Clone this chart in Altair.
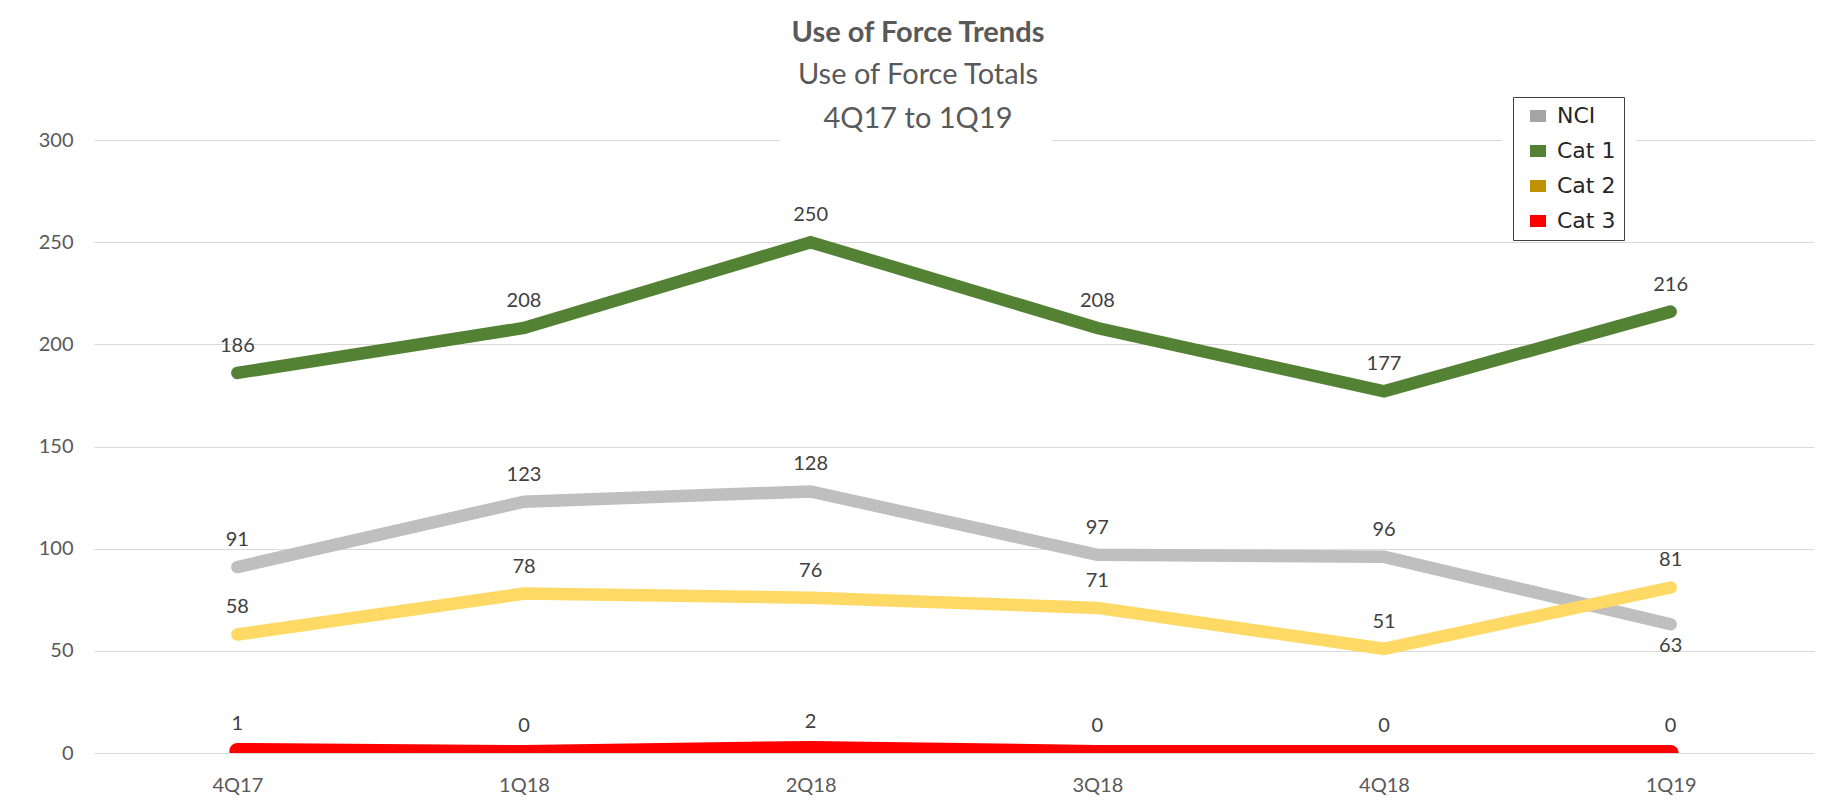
import altair as alt
import pandas as pd

quarters = ["4Q17", "1Q18", "2Q18", "3Q18", "4Q18", "1Q19"]
series_names = ["NCI", "Cat 1", "Cat 2", "Cat 3"]
nci = [91, 123, 128, 97, 96, 63]
cat1 = [186, 208, 250, 208, 177, 216]
cat2 = [58, 78, 76, 71, 51, 81]
cat3 = [1, 0, 2, 0, 0, 0]

line_colors = ["#bfbfbf", "#548235", "#ffd966", "#ff0000"]
legend_colors = ["#a5a5a5", "#548235", "#bf9000", "#ff0000"]

rows = []
for name, vals in zip(series_names, [nci, cat1, cat2, cat3]):
    for q, v in zip(quarters, vals):
        rows.append({"quarter": q, "series": name, "value": v,
                     "order": series_names.index(name)})
df = pd.DataFrame(rows)

FONT = "Lato"
W, H = 1720, 613

x_enc = alt.X("quarter:N", sort=quarters, title=None,
              scale=alt.Scale(type="point", padding=0.5),
              axis=alt.Axis(labelFont=FONT, labelFontSize=20, labelColor="#595959",
                            ticks=False, domain=False, grid=False, labelPadding=22,
                            labelAngle=0))
y_enc = alt.Y("value:Q", title=None,
              scale=alt.Scale(domain=[0, 300], nice=False),
              axis=alt.Axis(values=[0, 50, 100, 150, 200, 250, 300],
                            labelFont=FONT, labelFontSize=20, labelColor="#595959",
                            ticks=False, domain=False, grid=True, gridColor="#d9d9d9",
                            gridWidth=1.2, labelPadding=21))

base = alt.Chart(df)

lines = base.mark_line(strokeCap="round", strokeJoin="miter", clip=True).encode(
    x=x_enc, y=y_enc,
    color=alt.Color("series:N", sort=series_names,
                    scale=alt.Scale(domain=series_names, range=line_colors),
                    legend=None),
    strokeWidth=alt.condition("datum.series == 'Cat 3'", alt.value(16), alt.value(12.5)),
    order=alt.Order("order:Q"),
)

legend_layer = base.mark_square(opacity=0).encode(
    x=alt.X("quarter:N", sort=quarters),
    y=alt.Y("value:Q"),
    fill=alt.Fill("series:N", sort=series_names,
                  scale=alt.Scale(domain=series_names, range=legend_colors),
                  legend=alt.Legend(title=None, orient="none", legendX=1419, legendY=-43,
                                    symbolType="M-1,-0.75H1V0.75H-1Z", symbolSize=256,
                                    symbolOpacity=1, symbolStrokeWidth=0, symbolOffset=6,
                                    labelFont="DejaVu Sans", labelFontSize=22,
                                    labelColor="#262626", labelOffset=8,
                                    rowPadding=13, padding=8,
                                    fillColor="white", strokeColor="#404040",
                                    cornerRadius=0)),
)

is_below = "datum.series == 'NCI' && datum.quarter == '1Q19'"

labels_above = base.mark_text(font=FONT, fontSize=20, color="#404040", dy=-27,
                              baseline="middle").encode(
    x=alt.X("quarter:N", sort=quarters), y="value:Q", text="value:Q"
).transform_filter("!(" + is_below + ")")

labels_below = base.mark_text(font=FONT, fontSize=20, color="#404040", dy=22,
                              baseline="middle").encode(
    x=alt.X("quarter:N", sort=quarters), y="value:Q", text="value:Q"
).transform_filter(is_below)

mask_df = pd.DataFrame({"m": [0]})
mask_title = alt.Chart(mask_df).mark_rect(color="white").encode(
    x=alt.value(686), x2=alt.value(958), y=alt.value(-6), y2=alt.value(6))
mask_legend = alt.Chart(mask_df).mark_rect(color="white").encode(
    x=alt.value(1408), x2=alt.value(1542), y=alt.value(-6), y2=alt.value(6))

chart = alt.layer(mask_title, mask_legend, lines, legend_layer,
                  labels_above, labels_below).resolve_scale(
    color="independent", fill="independent"
).properties(
    width=W, height=H,
    background="white",
    autosize=alt.AutoSizeParams(type="none"),
    padding={"left": 86, "top": 132, "right": 3, "bottom": 50},
    title=alt.TitleParams(
        text="Use of Force Trends",
        subtitle=["Use of Force Totals", "4Q17 to 1Q19"],
        anchor="middle", dx=-36, dy=44, offset=7,
        font=FONT, fontSize=29, fontWeight="bold", color="#595959",
        subtitleFont=FONT, subtitleFontSize=29, subtitleColor="#595959",
        subtitleLineHeight=44, subtitlePadding=13,
    ),
).configure_view(stroke=None)

chart.save("out.html", embed_options={"renderer": "svg", "actions": False})
